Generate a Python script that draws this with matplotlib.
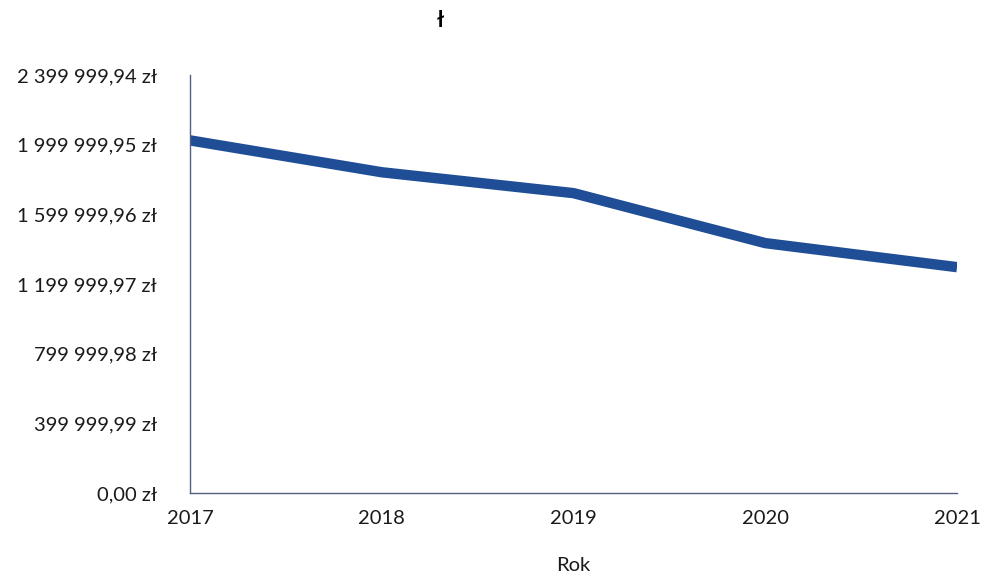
import matplotlib.pyplot as plt

# data
years = [2017, 2018, 2019, 2020, 2021]
values = [2025000, 1842000, 1722000, 1435000, 1297000]
ytick_values = [0, 399999.99, 799999.98, 1199999.97, 1599999.96, 1999999.95, 2399999.94]


def pln(v):
    s = f"{v:,.2f}".replace(",", " ").replace(".", ",")
    return s + " zł"


plt.rcParams['font.family'] = ['Lato', 'DejaVu Sans']

fig = plt.figure(figsize=(9.83, 5.82), dpi=100)
ax = fig.add_axes([0.1933, 0.1529, 0.7803, 0.7181])

ax.plot(years, values, color='#1f4e96', linewidth=7.5, solid_capstyle='butt',
        solid_joinstyle='round')

ax.set_xlim(2017, 2021)
ax.set_ylim(0, 2399999.94)
ax.set_xticks(years)
ax.set_xticklabels([str(y) for y in years])
ax.set_yticks(ytick_values)
ax.set_yticklabels([pln(v) for v in ytick_values])
ax.tick_params(length=0, labelsize=14.5, colors='#1a1a1a')
ax.tick_params(axis='y', pad=24)
ax.tick_params(axis='x', pad=12)

for side in ['top', 'right']:
    ax.spines[side].set_visible(False)
for side in ['left', 'bottom']:
    ax.spines[side].set_color('#556080')
    ax.spines[side].set_linewidth(1)

ax.set_xlabel("Rok", fontsize=14.5, color='#1a1a1a', labelpad=22)
fig.text(0.4475, 0.965, "ł", fontsize=16, fontweight='bold', ha='center', va='center')

fig.savefig('out.png', dpi=100)
